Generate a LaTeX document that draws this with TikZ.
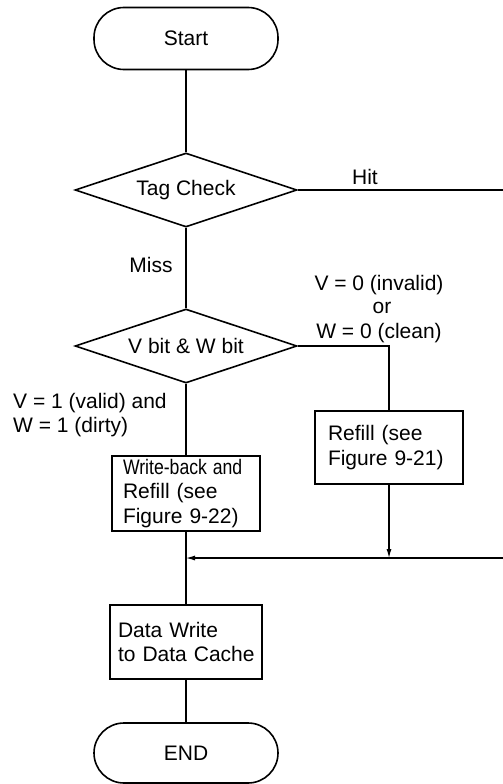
\documentclass[tikz,border=0pt]{standalone}
\usepackage{fontspec}
\usepackage{graphicx}
\setmainfont{Liberation Sans}
\usetikzlibrary{shapes.geometric,arrows.meta}
\begin{document}
\begin{tikzpicture}[x=1pt,y=-1pt,
  font=\fontsize{21}{24.5}\selectfont,
  term/.style={draw,line width=1.6pt,rounded corners=30pt,minimum width=184pt,minimum height=62pt,inner sep=0pt},
  decision/.style={draw,diamond,aspect=3,line width=1.6pt,minimum width=222pt,minimum height=74pt,inner sep=0pt},
  proc/.style={draw,rectangle,line width=1.5pt,align=left,inner ysep=0pt},
  conn/.style={line width=1.1pt},
  arr/.style={conn,-{Latex[length=9pt,width=5pt]}},
  lbl/.style={anchor=base,inner sep=0pt},
  lblw/.style={anchor=base west,inner sep=0pt}
]
\useasboundingbox (0,0) rectangle (503,784);

\node[term] (start) at (186,38.5) {Start};
\node[decision] (tag) at (186,190) {Tag Check};
\node[decision] (vb) at (186,346) {V bit \& W bit};
\node[proc,minimum width=148pt,minimum height=73pt,text width=122pt,inner xsep=13pt] (refill) at (389,447.5) {Refill~(see\\Figure~9-21)};
\node[proc,minimum width=148pt,minimum height=75pt,text width=126pt,inner xsep=11pt] (wb) at (186,493.5) {\scalebox{0.84}[1]{Write-back and}\\Refill~(see\\Figure~9-22)};
\node[proc,minimum width=152pt,minimum height=74pt,text width=136pt,inner xsep=8pt] (dw) at (186,642) {Data~Write\\to~Data~Cache};
\node[term,minimum height=60pt] (end) at (186,753) {END};

\coordinate (hitend) at (503,190);
\coordinate (retstart) at (503,558);
\coordinate (join) at (186,558);
\coordinate (rjoin) at (389,558);

\draw[conn] (start.south) -- (tag.north);
\draw[conn] (tag.east) -- (hitend);
\draw[conn] (tag.south) -- (vb.north);
\draw[conn] (vb.east) -| (refill.north);
\draw[conn] (vb.south) -- (wb.north);
\draw[arr] (refill.south) -- (rjoin);
\draw[arr] (retstart) -- (join);
\draw[conn] (wb.south) -- (dw.north);
\draw[conn] (dw.south) -- (end.north);

\node[lbl] (hitlbl) at (365,184) {Hit};
\node[lbl] (misslbl) at (151,272) {Miss};
\node[lbl] (v0lbl) at (379,290) {V = 0 (invalid)};
\node[lbl] (orlbl) at (382,313) {or};
\node[lbl] (w0lbl) at (379,338) {W = 0 (clean)};
\node[lblw] (v1lbl) at (13,408) {V = 1 (valid) and};
\node[lblw] (w1lbl) at (13,432) {W = 1 (dirty)};
\end{tikzpicture}
\end{document}
